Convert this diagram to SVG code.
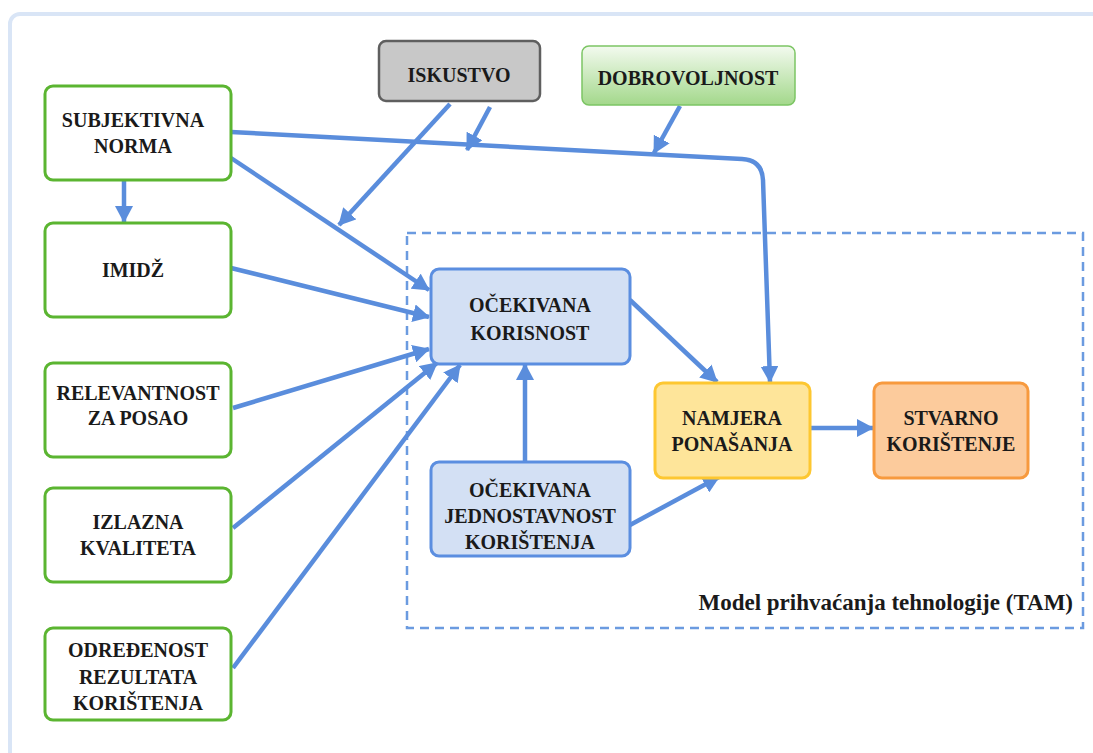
<svg xmlns="http://www.w3.org/2000/svg" width="1093" height="753" viewBox="0 0 1093 753">
<defs>
<linearGradient id="gDob" x1="0" y1="0" x2="0" y2="1">
<stop offset="0" stop-color="#f3faef"/>
<stop offset="1" stop-color="#a3d88b"/>
</linearGradient>
<marker id="ah" viewBox="0 0 17 18" refX="16" refY="9" markerWidth="17" markerHeight="18" orient="auto" markerUnits="userSpaceOnUse">
<path d="M0,0 L17,9 L0,18 z" fill="#5a8ddc"/>
</marker>
</defs>
<style>
.g{fill:#ffffff;stroke:#5bb531;stroke-width:3}
.b{fill:#d3e0f4;stroke:#5b8ee0;stroke-width:3}
.c{fill:none;stroke:#5a8ddc;stroke-width:4.5;marker-end:url(#ah)}
</style>
<rect x="10" y="14" width="1110" height="780" rx="10" fill="#ffffff" stroke="#d9e5f6" stroke-width="4"/>
<rect id="tam" x="407" y="233" width="676" height="395" fill="none" stroke="#6b9be0" stroke-width="2.5" stroke-dasharray="9,6"/>
<text style="font-family:'Liberation Serif',serif;font-weight:bold;font-size:23px;fill:#1a1a1a;text-anchor:end" x="1073" y="610">Model prihvaćanja tehnologije (TAM)</text>

<g id="connectors">
<path class="c" d="M124,181 L124,222"/>
<path class="c" d="M231,132 L742,159 Q762,160 763,180 L770,382"/>
<path class="c" d="M231,158 L429,290"/>
<path class="c" d="M450,104 L339,225"/>
<path class="c" d="M490,107 L467,150"/>
<path class="c" d="M680,106 L654,153"/>
<path class="c" d="M231,268 L429,317"/>
<path class="c" d="M233,408 L429,349"/>
<path class="c" d="M233,528 L437,363"/>
<path class="c" d="M233,668 L460,365"/>
<path class="c" d="M525,462 L525,364"/>
<path class="c" d="M630,300 L717,382"/>
<path class="c" d="M630,525 L719,477"/>
<path class="c" d="M811,428 L873,428"/>
</g>

<g id="subjektivna">
<rect class="g" x="45" y="86" width="186" height="94" rx="8"/>
<text style="font-family:'Liberation Serif',serif;font-weight:bold;font-size:20px;fill:#1a1a1a;text-anchor:middle" x="133" y="127">SUBJEKTIVNA</text>
<text style="font-family:'Liberation Serif',serif;font-weight:bold;font-size:20px;fill:#1a1a1a;text-anchor:middle" x="133" y="153">NORMA</text>
</g>
<g id="imidz">
<rect class="g" x="45" y="223" width="186" height="94" rx="8"/>
<text style="font-family:'Liberation Serif',serif;font-weight:bold;font-size:20px;fill:#1a1a1a;text-anchor:middle" x="133" y="277">IMIDŽ</text>
</g>
<g id="relevantnost">
<rect class="g" x="45" y="363" width="186" height="94" rx="8"/>
<text style="font-family:'Liberation Serif',serif;font-weight:bold;font-size:20px;fill:#1a1a1a;text-anchor:middle" x="138" y="400">RELEVANTNOST</text>
<text style="font-family:'Liberation Serif',serif;font-weight:bold;font-size:20px;fill:#1a1a1a;text-anchor:middle" x="138" y="425">ZA POSAO</text>
</g>
<g id="izlazna">
<rect class="g" x="45" y="488" width="186" height="94" rx="8"/>
<text style="font-family:'Liberation Serif',serif;font-weight:bold;font-size:20px;fill:#1a1a1a;text-anchor:middle" x="138" y="529">IZLAZNA</text>
<text style="font-family:'Liberation Serif',serif;font-weight:bold;font-size:20px;fill:#1a1a1a;text-anchor:middle" x="138" y="555">KVALITETA</text>
</g>
<g id="odredjenost">
<rect class="g" x="45" y="628" width="186" height="92" rx="8"/>
<text style="font-family:'Liberation Serif',serif;font-weight:bold;font-size:20px;fill:#1a1a1a;text-anchor:middle" x="138" y="657">ODREĐENOST</text>
<text style="font-family:'Liberation Serif',serif;font-weight:bold;font-size:20px;fill:#1a1a1a;text-anchor:middle" x="138" y="684">REZULTATA</text>
<text style="font-family:'Liberation Serif',serif;font-weight:bold;font-size:20px;fill:#1a1a1a;text-anchor:middle" x="138" y="710">KORIŠTENJA</text>
</g>
<g id="iskustvo">
<rect x="379" y="41" width="161" height="60" rx="7" fill="#c8c8c8" stroke="#5f5f5f" stroke-width="2.5"/>
<text style="font-family:'Liberation Serif',serif;font-weight:bold;font-size:20px;fill:#1a1a1a;text-anchor:middle" x="459" y="82">ISKUSTVO</text>
</g>
<g id="dobrovoljnost">
<rect x="582" y="46" width="213" height="59" rx="7" fill="url(#gDob)" stroke="#7cc564" stroke-width="1.5"/>
<text style="font-family:'Liberation Serif',serif;font-weight:bold;font-size:20px;fill:#1a1a1a;text-anchor:middle" x="688" y="85">DOBROVOLJNOST</text>
</g>
<g id="ocekivana-korisnost">
<rect class="b" x="431" y="269" width="199" height="95" rx="8"/>
<text style="font-family:'Liberation Serif',serif;font-weight:bold;font-size:20px;fill:#1a1a1a;text-anchor:middle" x="530" y="312">OČEKIVANA</text>
<text style="font-family:'Liberation Serif',serif;font-weight:bold;font-size:20px;fill:#1a1a1a;text-anchor:middle" x="530" y="340">KORISNOST</text>
</g>
<g id="ocekivana-jednostavnost">
<rect class="b" x="431" y="462" width="199" height="94" rx="8"/>
<text style="font-family:'Liberation Serif',serif;font-weight:bold;font-size:20px;fill:#1a1a1a;text-anchor:middle" x="530" y="497">OČEKIVANA</text>
<text style="font-family:'Liberation Serif',serif;font-weight:bold;font-size:20px;fill:#1a1a1a;text-anchor:middle" x="530" y="523">JEDNOSTAVNOST</text>
<text style="font-family:'Liberation Serif',serif;font-weight:bold;font-size:20px;fill:#1a1a1a;text-anchor:middle" x="530" y="549">KORIŠTENJA</text>
</g>
<g id="namjera">
<rect x="655" y="383" width="155" height="95" rx="8" fill="#fee59a" stroke="#fdc731" stroke-width="3"/>
<text style="font-family:'Liberation Serif',serif;font-weight:bold;font-size:20px;fill:#1a1a1a;text-anchor:middle" x="732" y="425">NAMJERA</text>
<text style="font-family:'Liberation Serif',serif;font-weight:bold;font-size:20px;fill:#1a1a1a;text-anchor:middle" x="732" y="451">PONAŠANJA</text>
</g>
<g id="stvarno">
<rect x="874" y="383" width="154" height="95" rx="8" fill="#fccb9c" stroke="#f79a3e" stroke-width="3"/>
<text style="font-family:'Liberation Serif',serif;font-weight:bold;font-size:20px;fill:#1a1a1a;text-anchor:middle" x="951" y="425">STVARNO</text>
<text style="font-family:'Liberation Serif',serif;font-weight:bold;font-size:20px;fill:#1a1a1a;text-anchor:middle" x="951" y="451">KORIŠTENJE</text>
</g>
</svg>
